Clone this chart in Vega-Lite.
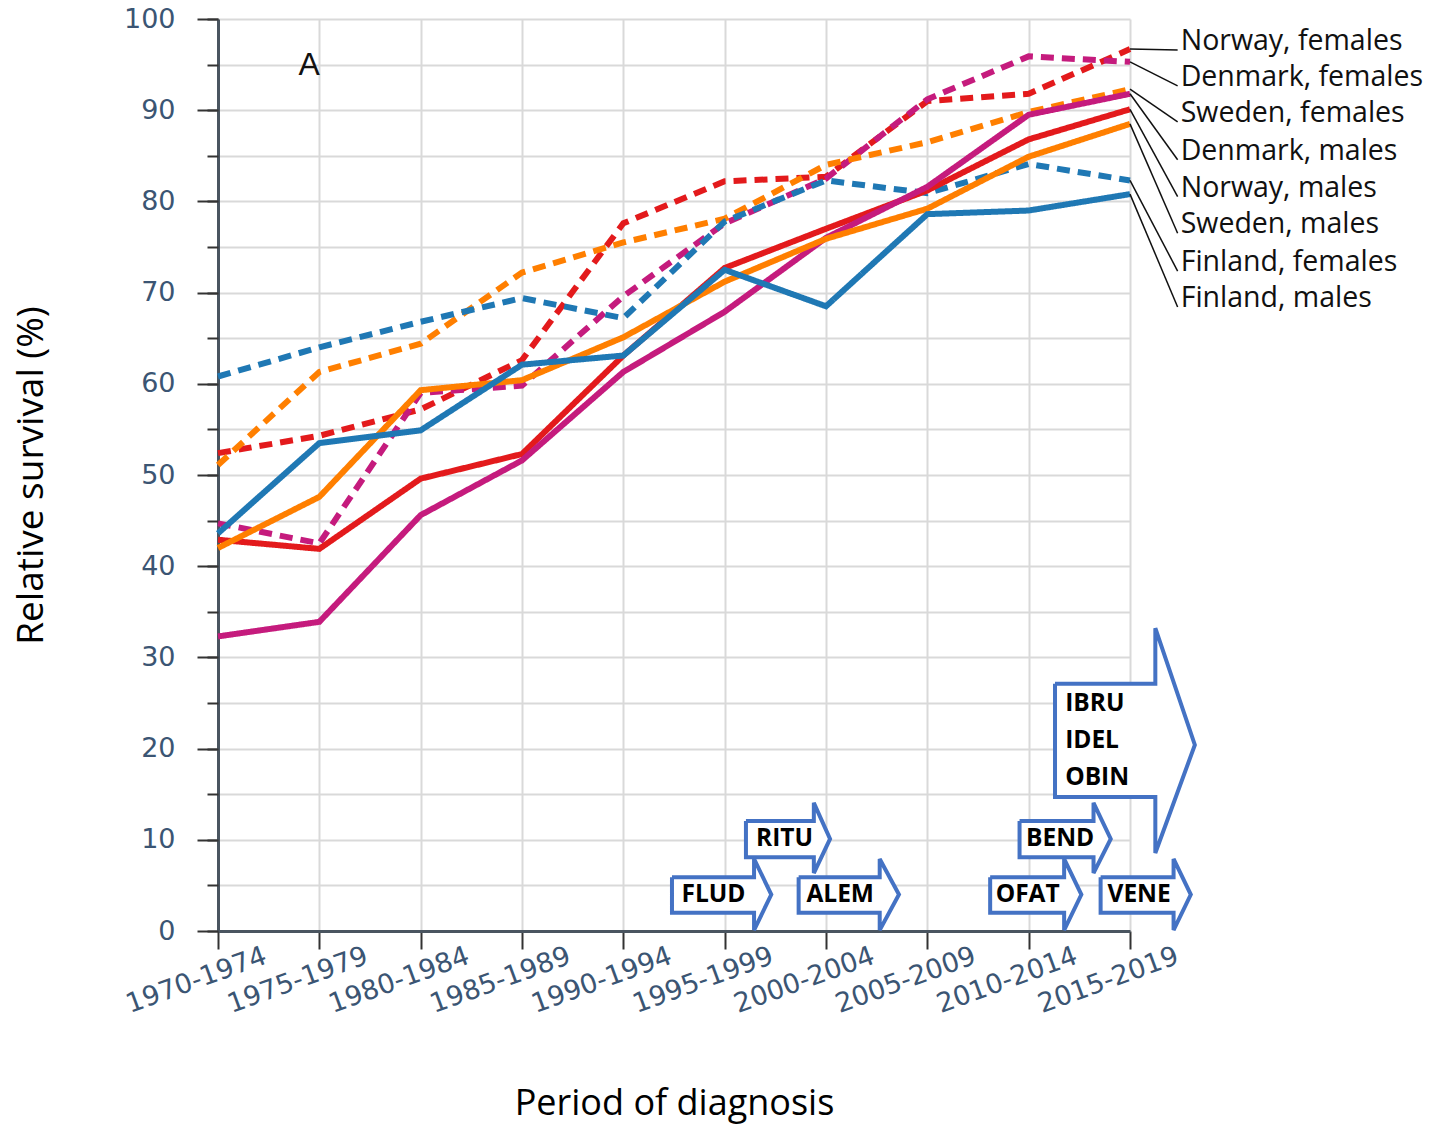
{
  "$schema": "https://vega.github.io/schema/vega-lite/v6.json",
  "width": 912,
  "height": 912,
  "autosize": {"type": "none"},
  "padding": {"left": 218, "top": 19, "right": 299, "bottom": 197},
  "background": "white",
  "config": {"view": {"stroke": null}},
  "datasets": {
    "main": [
      {"year": 1970, "series": "Norway, females", "country": "Norway", "sex": "females", "value": 52.4},
      {"year": 1975, "series": "Norway, females", "country": "Norway", "sex": "females", "value": 54.3},
      {"year": 1980, "series": "Norway, females", "country": "Norway", "sex": "females", "value": 57.2},
      {"year": 1985, "series": "Norway, females", "country": "Norway", "sex": "females", "value": 62.6},
      {"year": 1990, "series": "Norway, females", "country": "Norway", "sex": "females", "value": 77.6},
      {"year": 1995, "series": "Norway, females", "country": "Norway", "sex": "females", "value": 82.2},
      {"year": 2000, "series": "Norway, females", "country": "Norway", "sex": "females", "value": 82.7},
      {"year": 2005, "series": "Norway, females", "country": "Norway", "sex": "females", "value": 91.0},
      {"year": 2010, "series": "Norway, females", "country": "Norway", "sex": "females", "value": 91.8},
      {"year": 2015, "series": "Norway, females", "country": "Norway", "sex": "females", "value": 96.7},
      {"year": 1970, "series": "Denmark, females", "country": "Denmark", "sex": "females", "value": 44.7},
      {"year": 1975, "series": "Denmark, females", "country": "Denmark", "sex": "females", "value": 42.5},
      {"year": 1980, "series": "Denmark, females", "country": "Denmark", "sex": "females", "value": 59.0},
      {"year": 1985, "series": "Denmark, females", "country": "Denmark", "sex": "females", "value": 59.8},
      {"year": 1990, "series": "Denmark, females", "country": "Denmark", "sex": "females", "value": 69.6},
      {"year": 1995, "series": "Denmark, females", "country": "Denmark", "sex": "females", "value": 77.6},
      {"year": 2000, "series": "Denmark, females", "country": "Denmark", "sex": "females", "value": 82.5},
      {"year": 2005, "series": "Denmark, females", "country": "Denmark", "sex": "females", "value": 91.2},
      {"year": 2010, "series": "Denmark, females", "country": "Denmark", "sex": "females", "value": 95.9},
      {"year": 2015, "series": "Denmark, females", "country": "Denmark", "sex": "females", "value": 95.3},
      {"year": 1970, "series": "Sweden, females", "country": "Sweden", "sex": "females", "value": 51.1},
      {"year": 1975, "series": "Sweden, females", "country": "Sweden", "sex": "females", "value": 61.3},
      {"year": 1980, "series": "Sweden, females", "country": "Sweden", "sex": "females", "value": 64.4},
      {"year": 1985, "series": "Sweden, females", "country": "Sweden", "sex": "females", "value": 72.2},
      {"year": 1990, "series": "Sweden, females", "country": "Sweden", "sex": "females", "value": 75.5},
      {"year": 1995, "series": "Sweden, females", "country": "Sweden", "sex": "females", "value": 78.1},
      {"year": 2000, "series": "Sweden, females", "country": "Sweden", "sex": "females", "value": 84.0},
      {"year": 2005, "series": "Sweden, females", "country": "Sweden", "sex": "females", "value": 86.5},
      {"year": 2010, "series": "Sweden, females", "country": "Sweden", "sex": "females", "value": 89.8},
      {"year": 2015, "series": "Sweden, females", "country": "Sweden", "sex": "females", "value": 92.3},
      {"year": 1970, "series": "Finland, females", "country": "Finland", "sex": "females", "value": 60.8},
      {"year": 1975, "series": "Finland, females", "country": "Finland", "sex": "females", "value": 64.0},
      {"year": 1980, "series": "Finland, females", "country": "Finland", "sex": "females", "value": 66.8},
      {"year": 1985, "series": "Finland, females", "country": "Finland", "sex": "females", "value": 69.4},
      {"year": 1990, "series": "Finland, females", "country": "Finland", "sex": "females", "value": 67.2},
      {"year": 1995, "series": "Finland, females", "country": "Finland", "sex": "females", "value": 77.8},
      {"year": 2000, "series": "Finland, females", "country": "Finland", "sex": "females", "value": 82.3},
      {"year": 2005, "series": "Finland, females", "country": "Finland", "sex": "females", "value": 80.9},
      {"year": 2010, "series": "Finland, females", "country": "Finland", "sex": "females", "value": 84.1},
      {"year": 2015, "series": "Finland, females", "country": "Finland", "sex": "females", "value": 82.3},
      {"year": 1970, "series": "Norway, males", "country": "Norway", "sex": "males", "value": 42.9},
      {"year": 1975, "series": "Norway, males", "country": "Norway", "sex": "males", "value": 41.9},
      {"year": 1980, "series": "Norway, males", "country": "Norway", "sex": "males", "value": 49.6},
      {"year": 1985, "series": "Norway, males", "country": "Norway", "sex": "males", "value": 52.3},
      {"year": 1990, "series": "Norway, males", "country": "Norway", "sex": "males", "value": 63.1},
      {"year": 1995, "series": "Norway, males", "country": "Norway", "sex": "males", "value": 72.7},
      {"year": 2000, "series": "Norway, males", "country": "Norway", "sex": "males", "value": 77.0},
      {"year": 2005, "series": "Norway, males", "country": "Norway", "sex": "males", "value": 81.2},
      {"year": 2010, "series": "Norway, males", "country": "Norway", "sex": "males", "value": 86.8},
      {"year": 2015, "series": "Norway, males", "country": "Norway", "sex": "males", "value": 90.1},
      {"year": 1970, "series": "Denmark, males", "country": "Denmark", "sex": "males", "value": 32.3},
      {"year": 1975, "series": "Denmark, males", "country": "Denmark", "sex": "males", "value": 33.9},
      {"year": 1980, "series": "Denmark, males", "country": "Denmark", "sex": "males", "value": 45.6},
      {"year": 1985, "series": "Denmark, males", "country": "Denmark", "sex": "males", "value": 51.6},
      {"year": 1990, "series": "Denmark, males", "country": "Denmark", "sex": "males", "value": 61.3},
      {"year": 1995, "series": "Denmark, males", "country": "Denmark", "sex": "males", "value": 67.9},
      {"year": 2000, "series": "Denmark, males", "country": "Denmark", "sex": "males", "value": 76.0},
      {"year": 2005, "series": "Denmark, males", "country": "Denmark", "sex": "males", "value": 81.6},
      {"year": 2010, "series": "Denmark, males", "country": "Denmark", "sex": "males", "value": 89.5},
      {"year": 2015, "series": "Denmark, males", "country": "Denmark", "sex": "males", "value": 91.8},
      {"year": 1970, "series": "Sweden, males", "country": "Sweden", "sex": "males", "value": 42.0},
      {"year": 1975, "series": "Sweden, males", "country": "Sweden", "sex": "males", "value": 47.6},
      {"year": 1980, "series": "Sweden, males", "country": "Sweden", "sex": "males", "value": 59.3},
      {"year": 1985, "series": "Sweden, males", "country": "Sweden", "sex": "males", "value": 60.4},
      {"year": 1990, "series": "Sweden, males", "country": "Sweden", "sex": "males", "value": 65.1},
      {"year": 1995, "series": "Sweden, males", "country": "Sweden", "sex": "males", "value": 71.2},
      {"year": 2000, "series": "Sweden, males", "country": "Sweden", "sex": "males", "value": 75.9},
      {"year": 2005, "series": "Sweden, males", "country": "Sweden", "sex": "males", "value": 79.2},
      {"year": 2010, "series": "Sweden, males", "country": "Sweden", "sex": "males", "value": 84.9},
      {"year": 2015, "series": "Sweden, males", "country": "Sweden", "sex": "males", "value": 88.5},
      {"year": 1970, "series": "Finland, males", "country": "Finland", "sex": "males", "value": 43.6},
      {"year": 1975, "series": "Finland, males", "country": "Finland", "sex": "males", "value": 53.5},
      {"year": 1980, "series": "Finland, males", "country": "Finland", "sex": "males", "value": 54.9},
      {"year": 1985, "series": "Finland, males", "country": "Finland", "sex": "males", "value": 62.1},
      {"year": 1990, "series": "Finland, males", "country": "Finland", "sex": "males", "value": 63.1},
      {"year": 1995, "series": "Finland, males", "country": "Finland", "sex": "males", "value": 72.5},
      {"year": 2000, "series": "Finland, males", "country": "Finland", "sex": "males", "value": 68.5},
      {"year": 2005, "series": "Finland, males", "country": "Finland", "sex": "males", "value": 78.6},
      {"year": 2010, "series": "Finland, males", "country": "Finland", "sex": "males", "value": 79.0},
      {"year": 2015, "series": "Finland, males", "country": "Finland", "sex": "males", "value": 80.8}
    ],
    "labels": [
      {"series": "Norway, females", "labelPct": 97.6},
      {"series": "Denmark, females", "labelPct": 93.65},
      {"series": "Sweden, females", "labelPct": 89.7},
      {"series": "Denmark, males", "labelPct": 85.55},
      {"series": "Norway, males", "labelPct": 81.5},
      {"series": "Sweden, males", "labelPct": 77.5},
      {"series": "Finland, females", "labelPct": 73.35},
      {"series": "Finland, males", "labelPct": 69.4}
    ],
    "arrows": [
      {"drug": "FLUD", "i": 0, "year": 1992.4, "pct": 5.9},
      {"drug": "FLUD", "i": 1, "year": 1996.45, "pct": 5.9},
      {"drug": "FLUD", "i": 2, "year": 1996.45, "pct": 7.9},
      {"drug": "FLUD", "i": 3, "year": 1997.3, "pct": 4.0},
      {"drug": "FLUD", "i": 4, "year": 1996.45, "pct": 0.1},
      {"drug": "FLUD", "i": 5, "year": 1996.45, "pct": 2.0},
      {"drug": "FLUD", "i": 6, "year": 1992.4, "pct": 2.0},
      {"drug": "FLUD", "i": 7, "year": 1992.4, "pct": 5.9},
      {"drug": "ALEM", "i": 0, "year": 1998.65, "pct": 5.9},
      {"drug": "ALEM", "i": 1, "year": 2002.65, "pct": 5.9},
      {"drug": "ALEM", "i": 2, "year": 2002.65, "pct": 7.9},
      {"drug": "ALEM", "i": 3, "year": 2003.6, "pct": 4.0},
      {"drug": "ALEM", "i": 4, "year": 2002.65, "pct": 0.1},
      {"drug": "ALEM", "i": 5, "year": 2002.65, "pct": 2.0},
      {"drug": "ALEM", "i": 6, "year": 1998.65, "pct": 2.0},
      {"drug": "ALEM", "i": 7, "year": 1998.65, "pct": 5.9},
      {"drug": "OFAT", "i": 0, "year": 2008.1, "pct": 5.9},
      {"drug": "OFAT", "i": 1, "year": 2011.75, "pct": 5.9},
      {"drug": "OFAT", "i": 2, "year": 2011.75, "pct": 7.9},
      {"drug": "OFAT", "i": 3, "year": 2012.6, "pct": 4.0},
      {"drug": "OFAT", "i": 4, "year": 2011.75, "pct": 0.1},
      {"drug": "OFAT", "i": 5, "year": 2011.75, "pct": 2.0},
      {"drug": "OFAT", "i": 6, "year": 2008.1, "pct": 2.0},
      {"drug": "OFAT", "i": 7, "year": 2008.1, "pct": 5.9},
      {"drug": "VENE", "i": 0, "year": 2013.55, "pct": 5.9},
      {"drug": "VENE", "i": 1, "year": 2017.15, "pct": 5.9},
      {"drug": "VENE", "i": 2, "year": 2017.15, "pct": 7.9},
      {"drug": "VENE", "i": 3, "year": 2018.0, "pct": 4.0},
      {"drug": "VENE", "i": 4, "year": 2017.15, "pct": 0.1},
      {"drug": "VENE", "i": 5, "year": 2017.15, "pct": 2.0},
      {"drug": "VENE", "i": 6, "year": 2013.55, "pct": 2.0},
      {"drug": "VENE", "i": 7, "year": 2013.55, "pct": 5.9},
      {"drug": "RITU", "i": 0, "year": 1996.05, "pct": 12.05},
      {"drug": "RITU", "i": 1, "year": 1999.4, "pct": 12.05},
      {"drug": "RITU", "i": 2, "year": 1999.4, "pct": 14.05},
      {"drug": "RITU", "i": 3, "year": 2000.2, "pct": 10.1},
      {"drug": "RITU", "i": 4, "year": 1999.4, "pct": 6.35},
      {"drug": "RITU", "i": 5, "year": 1999.4, "pct": 8.1},
      {"drug": "RITU", "i": 6, "year": 1996.05, "pct": 8.1},
      {"drug": "RITU", "i": 7, "year": 1996.05, "pct": 12.05},
      {"drug": "BEND", "i": 0, "year": 2009.55, "pct": 12.05},
      {"drug": "BEND", "i": 1, "year": 2013.2, "pct": 12.05},
      {"drug": "BEND", "i": 2, "year": 2013.2, "pct": 14.05},
      {"drug": "BEND", "i": 3, "year": 2014.05, "pct": 10.1},
      {"drug": "BEND", "i": 4, "year": 2013.2, "pct": 6.35},
      {"drug": "BEND", "i": 5, "year": 2013.2, "pct": 8.1},
      {"drug": "BEND", "i": 6, "year": 2009.55, "pct": 8.1},
      {"drug": "BEND", "i": 7, "year": 2009.55, "pct": 12.05},
      {"drug": "IBRU/IDEL/OBIN", "i": 0, "year": 2011.3, "pct": 27.1},
      {"drug": "IBRU/IDEL/OBIN", "i": 1, "year": 2016.25, "pct": 27.1},
      {"drug": "IBRU/IDEL/OBIN", "i": 2, "year": 2016.25, "pct": 33.2},
      {"drug": "IBRU/IDEL/OBIN", "i": 3, "year": 2018.2, "pct": 20.4},
      {"drug": "IBRU/IDEL/OBIN", "i": 4, "year": 2016.25, "pct": 8.55},
      {"drug": "IBRU/IDEL/OBIN", "i": 5, "year": 2016.25, "pct": 14.7},
      {"drug": "IBRU/IDEL/OBIN", "i": 6, "year": 2011.3, "pct": 14.7},
      {"drug": "IBRU/IDEL/OBIN", "i": 7, "year": 2011.3, "pct": 27.1}
    ],
    "drugs": [
      {"drug": "FLUD", "year": 1994.45, "pct": 4.0},
      {"drug": "ALEM", "year": 2000.7, "pct": 4.0},
      {"drug": "OFAT", "year": 2009.95, "pct": 4.0},
      {"drug": "VENE", "year": 2015.45, "pct": 4.0},
      {"drug": "RITU", "year": 1997.95, "pct": 10.1},
      {"drug": "BEND", "year": 2011.55, "pct": 10.1}
    ],
    "bigdrugs": [
      {"drug": "IBRU", "year": 2011.8, "pct": 24.9},
      {"drug": "IDEL", "year": 2011.8, "pct": 20.85},
      {"drug": "OBIN", "year": 2011.8, "pct": 16.8}
    ]
  },
  "resolve": {"axis": {"y": "independent"}},
  "layer": [
    {
      "data": {"name": "main"},
      "mark": {"type": "line", "strokeWidth": 6, "strokeCap": "butt"},
      "encoding": {
        "x": {
          "field": "year", "type": "quantitative",
          "scale": {"domain": [1970, 2015], "nice": false, "zero": false},
          "axis": {
            "values": [1970, 1975, 1980, 1985, 1990, 1995, 2000, 2005, 2010, 2015],
            "labelExpr": "datum.value + '-' + (datum.value + 4)",
            "grid": true, "gridColor": "#d9d9d9", "gridWidth": 2,
            "tickSize": 18, "tickWidth": 2, "tickColor": "#333333",
            "domainColor": "#4a5560", "domainWidth": 3,
            "labelAngle": -20, "labelAlign": "center", "labelBaseline": "middle",
            "labelPadding": 31, "labelOffset": -22,
            "labelFont": "DejaVu Sans", "labelFontSize": 27, "labelColor": "#3b5573",
            "labelOverlap": false, "labelFlush": false,
            "title": "Period of diagnosis", "titleFont": "Open Sans", "titleFontSize": 36,
            "titleFontWeight": "normal", "titleColor": "#000000", "titlePadding": 69
          }
        },
        "y": {
          "field": "value", "type": "quantitative",
          "scale": {"domain": [0, 100], "nice": false, "zero": true},
          "axis": {
            "orient": "left",
            "values": [0, 10, 20, 30, 40, 50, 60, 70, 80, 90, 100],
            "grid": false,
            "tickSize": 21, "tickWidth": 2, "tickColor": "#333333",
            "domainColor": "#4a5560", "domainWidth": 3,
            "labelFont": "DejaVu Sans", "labelFontSize": 27, "labelColor": "#3b5573",
            "labelPadding": 22,
            "title": "Relative survival (%)", "titleFont": "Open Sans", "titleFontSize": 37,
            "titleFontWeight": "normal", "titleColor": "#000000", "titlePadding": 73
          }
        },
        "color": {
          "field": "country", "type": "nominal",
          "scale": {"domain": ["Norway", "Denmark", "Sweden", "Finland"], "range": ["#e31a1c", "#c51b7d", "#ff7f00", "#1f78b4"]},
          "legend": null
        },
        "strokeDash": {
          "field": "sex", "type": "nominal",
          "scale": {"domain": ["females", "males"], "range": [[13, 8], [1, 0]]},
          "legend": null
        },
        "detail": {"field": "series"}
      }
    },
    {
      "data": {"name": "main"},
      "transform": [
        {"filter": "datum.year == 2015"},
        {"lookup": "series", "from": {"data": {"name": "labels"}, "key": "series", "fields": ["labelPct"]}}
      ],
      "mark": {"type": "rule", "stroke": "#111111", "strokeWidth": 1.5, "y2Offset": 9},
      "encoding": {
        "x": {"field": "year", "type": "quantitative"},
        "x2": {"datum": 2017.35},
        "y": {
          "field": "value", "type": "quantitative",
          "axis": {
            "orient": "left",
            "values": [0, 5, 10, 15, 20, 25, 30, 35, 40, 45, 50, 55, 60, 65, 70, 75, 80, 85, 90, 95, 100],
            "grid": true, "gridColor": "#d9d9d9", "gridWidth": 2,
            "tickSize": 11, "tickWidth": 2, "tickColor": "#333333",
            "labels": false, "domain": false, "title": null
          }
        },
        "y2": {"field": "labelPct"}
      }
    },
    {
      "data": {"name": "labels"},
      "mark": {"type": "text", "align": "left", "baseline": "middle", "font": "Open Sans", "fontSize": 28.5, "color": "#111111"},
      "encoding": {
        "x": {"datum": 2017.5, "type": "quantitative"},
        "y": {"field": "labelPct", "type": "quantitative", "axis": null},
        "text": {"field": "series"}
      }
    },
    {
      "data": {"values": [{"panel": "A"}]},
      "mark": {"type": "text", "align": "center", "baseline": "middle", "font": "Liberation Sans", "fontSize": 32, "color": "#111111"},
      "encoding": {
        "x": {"datum": 1974.5, "type": "quantitative"},
        "y": {"datum": 95, "type": "quantitative", "axis": null},
        "text": {"field": "panel"}
      }
    },
    {
      "data": {"name": "arrows"},
      "mark": {"type": "line", "stroke": "#4472c4", "fill": "#ffffff", "strokeWidth": 4, "strokeJoin": "miter"},
      "encoding": {
        "x": {"field": "year", "type": "quantitative"},
        "y": {"field": "pct", "type": "quantitative", "axis": null},
        "detail": {"field": "drug"},
        "order": {"field": "i", "type": "quantitative"}
      }
    },
    {
      "data": {"name": "drugs"},
      "mark": {"type": "text", "align": "center", "baseline": "middle", "font": "Open Sans", "fontWeight": "bold", "fontSize": 24.5, "color": "#000000"},
      "encoding": {
        "x": {"field": "year", "type": "quantitative"},
        "y": {"field": "pct", "type": "quantitative", "axis": null},
        "text": {"field": "drug"}
      }
    },
    {
      "data": {"name": "bigdrugs"},
      "mark": {"type": "text", "align": "left", "baseline": "middle", "font": "Open Sans", "fontWeight": "bold", "fontSize": 24.5, "color": "#000000"},
      "encoding": {
        "x": {"field": "year", "type": "quantitative"},
        "y": {"field": "pct", "type": "quantitative", "axis": null},
        "text": {"field": "drug"}
      }
    }
  ]
}
